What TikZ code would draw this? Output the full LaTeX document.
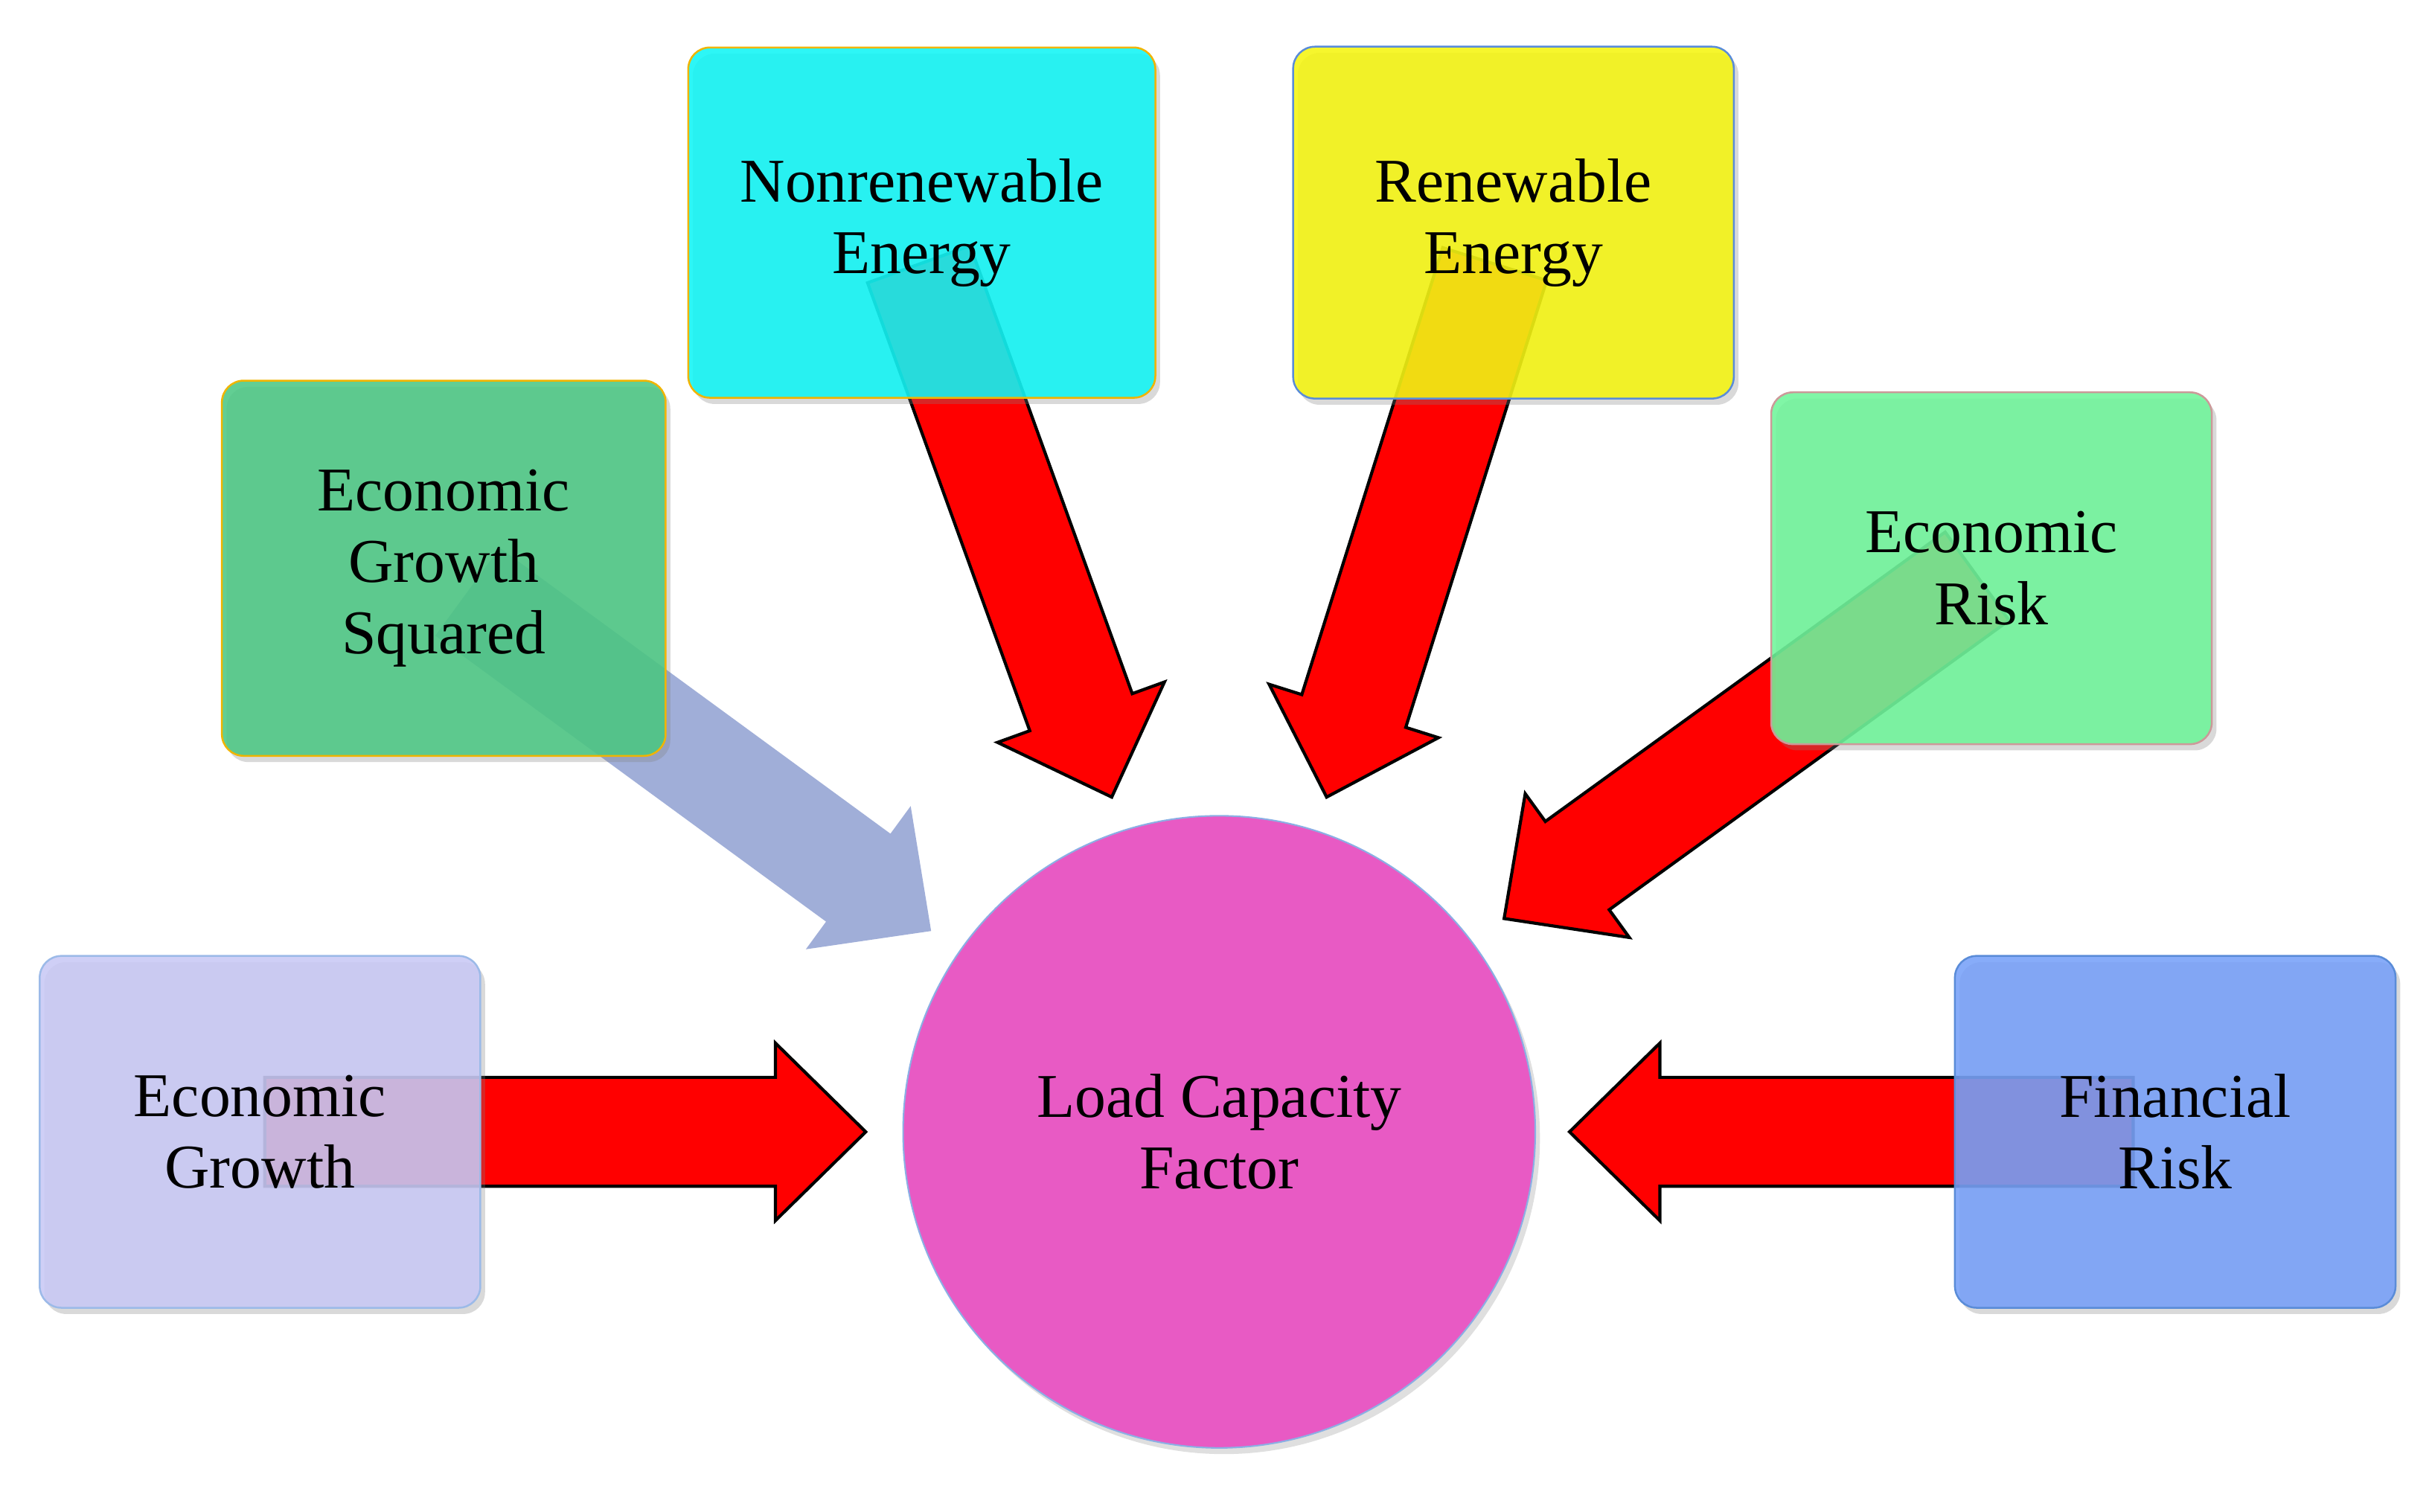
\documentclass[tikz,border=0pt]{standalone}
\usepackage{fontspec}
\setmainfont{Liberation Serif}
\usetikzlibrary{shadows}
\definecolor{cmag}{HTML}{E85AC4}
\definecolor{cEG}{HTML}{C8C8F5}
\definecolor{cEGS}{HTML}{4CC784}
\definecolor{cNR}{HTML}{10F5F5}
\definecolor{cRE}{HTML}{F5F510}
\definecolor{cER}{HTML}{6EF59A}
\definecolor{cFR}{HTML}{76A0F8}
\definecolor{cgray}{HTML}{A0AED8}
\definecolor{cgold}{HTML}{F0B400}
\definecolor{cblue}{HTML}{5A8CD8}
\newcommand\myarrow[4]{%
  \begin{scope}[shift={#1},rotate=#2]
    \path[#4] (0,0) -- (-58,57) -- (-58,35) -- (-#3,35) -- (-#3,-35) -- (-58,-35) -- (-58,-57) -- cycle;
  \end{scope}}
\begin{document}
\begin{tikzpicture}[x=1pt,y=1pt,
  box/.style={rounded corners=14pt,minimum width=283pt,minimum height=226pt,align=center,
    font=\fontsize{40}{46}\selectfont,fill opacity=0.88,text opacity=1,line width=1.2pt,
    drop shadow={shadow xshift=3pt,shadow yshift=-4pt,opacity=0.3}},
  red arrow/.style={fill=red,draw=black,line width=2pt,line join=miter}]
\useasboundingbox (0,0) rectangle (1560,971);
\node[circle,minimum size=406pt,fill=cmag,draw=cblue!70,line width=1pt,align=center,
  font=\fontsize{40}{46}\selectfont,drop shadow={shadow xshift=3pt,shadow yshift=-4pt,opacity=0.25}] (lcf) at (783,244) {Load Capacity\\Factor};
\coordinate (t1) at (556,244);
\coordinate (t2) at (1008,244);
\coordinate (t3) at (598,373);
\coordinate (t4) at (714,459);
\coordinate (t5) at (852,459);
\coordinate (t6) at (966,381);
\myarrow{(t1)}{0}{386}{red arrow}
\myarrow{(t2)}{180}{362}{red arrow}
\myarrow{(t3)}{-36.2}{369}{fill=cgray}
\myarrow{(t4)}{-70.1}{364}{red arrow}
\myarrow{(t5)}{-107.5}{359}{red arrow}
\myarrow{(t6)}{215.9}{375}{red arrow}
\node[box,fill=cEG,draw=cblue!60] (eg) at (167,244) {Economic\\Growth};
\node[box,fill=cEGS,draw=cgold,minimum width=285pt,minimum height=241pt] (egs) at (285,606) {Economic\\Growth\\Squared};
\node[box,fill=cNR,draw=cgold,minimum width=300pt,minimum height=225pt] (nr) at (592,828) {Nonrenewable\\Energy};
\node[box,fill=cRE,draw=cblue] (re) at (972,828) {Renewable\\Energy};
\node[box,fill=cER,draw=pink!80!black] (er) at (1279,606) {Economic\\Risk};
\node[box,fill=cFR,draw=cblue] (fr) at (1397,244) {Financial\\Risk};
\end{tikzpicture}
\end{document}
